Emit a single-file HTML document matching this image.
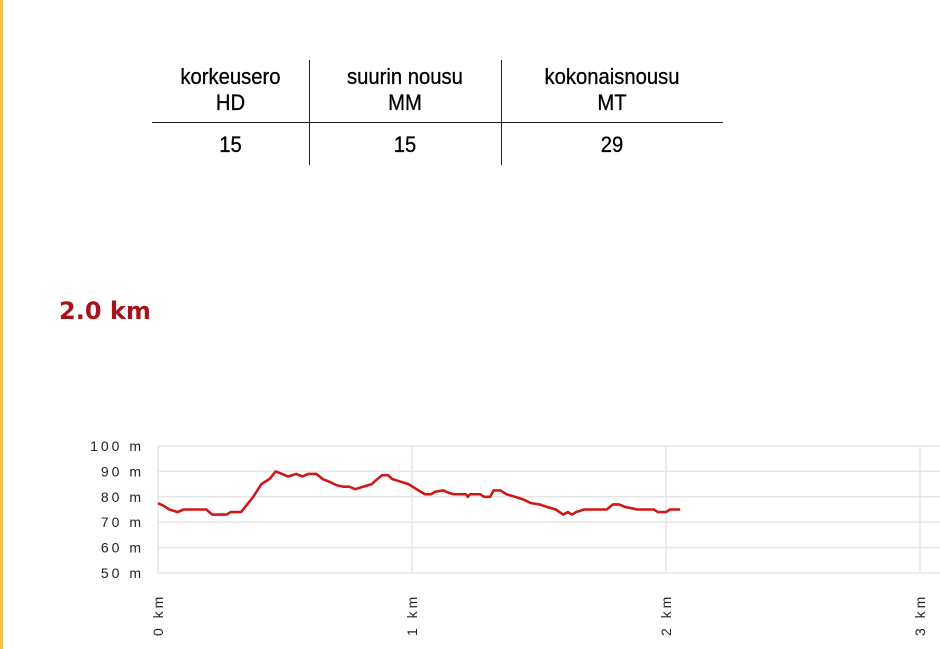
<!DOCTYPE html>
<html><head><meta charset="utf-8"><style>
body{margin:0;width:940px;height:649px;background:#fff;position:relative;overflow:hidden;font-family:"Liberation Sans",sans-serif}
#bar{position:absolute;left:0;top:0;width:3px;height:649px;background:#f2c14e}
.t{position:absolute;text-align:center;font-size:22px;color:#000;line-height:26px;transform:scaleX(0.92);-webkit-text-stroke:0.3px #000}
#title{position:absolute;left:59px;top:297px;font-size:24px;font-weight:bold;color:#a5141b;font-family:"DejaVu Sans",sans-serif}
svg{position:absolute;left:0;top:0}
</style></head><body>
<div id="bar"></div>
<div>
<div class="t" style="left:152px;top:64px;width:157px">korkeusero<br>HD</div>
<div class="t" style="left:309px;top:64px;width:192px">suurin nousu<br>MM</div>
<div class="t" style="left:501px;top:64px;width:222px">kokonaisnousu<br>MT</div>
<div class="t" style="left:152px;top:132px;width:157px">15</div>
<div class="t" style="left:309px;top:132px;width:192px">15</div>
<div class="t" style="left:501px;top:132px;width:222px">29</div>
<div style="position:absolute;left:152px;top:122px;width:571px;height:1px;background:#222"></div>
<div style="position:absolute;left:309px;top:60px;width:1px;height:105px;background:#222"></div>
<div style="position:absolute;left:501px;top:60px;width:1px;height:105px;background:#222"></div>
</div>
<div id="title">2.0 km</div>
<svg id="chart" width="940" height="649"></svg>
<script>
const dist=[0,.021,.045,.077,.101,.19,.214,.27,.286,.327,.351,.375,.407,.439,.463,.488,.512,.544,.568,.592,.624,.648,.673,.705,.729,.753,.777,.809,.842,.858,.882,.906,.922,.954,.986,1.018,1.051,1.075,1.091,1.123,1.147,1.163,1.212,1.22,1.228,1.268,1.284,1.308,1.321,1.348,1.372,1.405,1.437,1.469,1.501,1.533,1.566,1.595,1.614,1.63,1.646,1.678,1.767,1.791,1.815,1.839,1.887,1.952,1.968,2.0,2.016,2.056];
const elev=[77.5,76.5,75,74,75,75,73,73,74,74,77,80,85,87,90,89,88,89,88,89,89,87,86,84.5,84,84,83,84,85,86.5,88.5,88.5,87,86,85,83,81,81,82,82.5,81.5,81,81,80,81,81,80,80,82.5,82.5,81,80,79,77.5,77,76,75,73,74,73,74,75,75,77,77,76,75,75,74,74,75,75];
const yTicks=[50,60,70,80,90,100];
const xTicks=[0,1,2,3];
const NS='http://www.w3.org/2000/svg';
const svg=document.getElementById('chart');
const X=k=>158+k*254, Y=m=>573-(m-50)*2.54;
function mk(t,a){const e=document.createElementNS(NS,t);for(const k in a)e.setAttribute(k,a[k]);svg.appendChild(e);return e;}
yTicks.forEach(v=>{
 const l=mk('line',{x1:158,x2:940,y1:Y(v),y2:Y(v),stroke:'#e6e6e6','stroke-width':1.5});
 
 
 const t=mk('text',{x:144,y:Y(v)+5,'text-anchor':'end','font-size':14,fill:'#222','letter-spacing':'3','font-family':'Liberation Sans, sans-serif'});
 t.textContent=v+' m';
 
 
});
xTicks.forEach(v=>{
 const l=mk('line',{x1:X(v),x2:X(v),y1:446,y2:573,stroke:'#e6e6e6','stroke-width':1.5});
 
 
 const t=mk('text',{x:0,y:0,'text-anchor':'start','font-size':14,fill:'#222','letter-spacing':'3','font-family':'Liberation Sans, sans-serif',transform:`translate(${X(v)+5},636) rotate(-90)`});
 t.textContent=v+' km';
 
 
});
const p=mk('polyline',{points:dist.map((d,i)=>X(d)+','+Y(elev[i])).join(' '),fill:'none',stroke:'#d01818','stroke-width':2.6,'stroke-linejoin':'round'});


</script>
</body></html>
